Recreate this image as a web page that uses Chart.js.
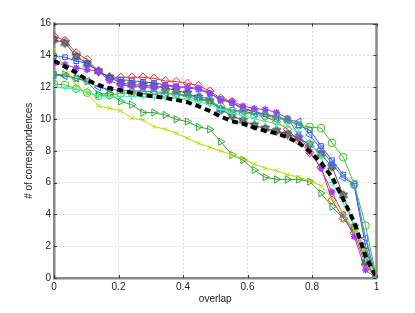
<!DOCTYPE html>
<html><head><meta charset="utf-8">
<script src="https://cdn.jsdelivr.net/npm/chart.js@4/dist/chart.umd.min.js"></script>
<style>html,body{margin:0;padding:0;background:#fff;}canvas{display:block;}</style>
</head><body>
<canvas id="c" width="415" height="313"></canvas>
<script>
const overlap = [0,0.034,0.069,0.103,0.138,0.172,0.207,0.241,0.276,0.31,0.345,0.379,0.414,0.448,0.483,0.517,0.552,0.586,0.621,0.655,0.69,0.724,0.759,0.793,0.828,0.862,0.897,0.931,0.966,1];
const redDiamond = [15.2,14.93,14.15,13.73,13.0,12.62,12.62,12.62,12.62,12.55,12.39,12.35,12.24,12.1,11.75,11.3,11.1,10.52,10.52,10.14,9.83,9.35,8.6,7.88,6.96,4.9,3.75,2.83,0.82,0];
const grayStar = [14.99,14.78,13.94,13.46,13.0,12.62,12.26,12.16,12.12,12.06,11.95,11.8,11.6,11.35,11.1,10.6,10.2,9.9,9.6,9.4,9.25,9.05,8.8,8.4,7.8,7.0,5.2,3.2,1.0,0];
const blueSquare = [13.95,13.88,13.63,13.52,13.0,12.58,12.47,12.41,12.33,12.26,12.15,12.05,11.95,11.85,11.6,11.25,11.0,10.7,10.45,10.3,10.15,9.95,9.6,9.3,8.3,7.4,6.5,5.8,2.0,0];
const purpleAst = [13.5,13.42,13.2,13.1,13.0,12.4,12.14,12.08,12.0,12.0,12.08,12.03,12.0,11.93,11.62,11.15,11.09,10.82,10.65,10.6,10.4,10.05,9.0,7.94,6.9,5.4,4.0,2.6,0.5,0];
const meanDashed = [13.65,13.3,12.9,12.45,12.12,11.93,11.8,11.65,11.5,11.42,11.32,11.2,11.05,10.8,10.5,10.15,9.85,9.7,9.45,9.25,9.1,8.85,8.5,7.95,7.25,6.35,4.95,3.5,1.4,0];
const blueTriangle = [12.77,12.7,12.55,12.39,12.0,11.85,11.8,11.75,11.75,11.72,11.65,11.55,11.5,11.36,11.3,10.57,10.57,10.46,10.36,10.3,10.1,9.94,9.83,9.0,8.1,7.2,6.3,5.9,2.5,0];
const greenCircle = [12.2,12.14,11.9,11.65,11.45,11.5,11.6,11.65,11.6,11.55,11.6,11.55,11.4,11.2,11.1,10.77,10.5,10.4,10.3,10.2,10.05,9.9,9.6,9.5,9.42,8.5,7.6,5.9,3.3,0];
const greenTriangle = [12.79,12.79,12.55,12.35,11.55,11.6,11.1,10.9,10.4,10.4,10.25,9.98,9.83,9.5,9.35,8.57,7.74,7.42,6.79,6.33,6.2,6.2,6.2,6.06,5.33,4.48,3.75,3.12,1.76,0];
const cyanPlus = [12.0,11.95,11.85,11.7,11.45,11.4,11.4,11.4,11.4,11.35,11.3,11.3,11.25,11.1,10.9,10.6,10.35,10.2,10.0,9.85,9.7,9.5,9.2,8.5,7.6,6.0,4.8,3.3,1.2,0];
const yellowX = [14.4,13.2,12.1,11.6,10.82,10.67,10.52,10.04,9.94,9.52,9.35,9.1,8.79,8.47,8.22,7.99,7.74,7.48,7.17,6.9,6.75,6.5,6.35,6.1,5.8,5.0,4.1,3.0,1.6,0];
const xTicks = [0,0.2,0.4,0.6,0.8,1];
const yTicks = [0,2,4,6,8,10,12,14,16];

function pts(arr){ return arr.map((v,i)=>({x:overlap[i], y:v})); }

// hexagram marker
const hex = document.createElement('canvas');
hex.width = 11; hex.height = 11;
(function(){
  const g = hex.getContext('2d');
  g.strokeStyle = '#505050'; g.fillStyle = 'rgba(110,110,110,0.6)'; g.lineWidth = 1;
  const cx=5.5, cy=5.5, r=4.8;
  for (const off of [-Math.PI/2, Math.PI/2]) {
    g.beginPath();
    for (let k=0;k<3;k++){ const a = off + k*2*Math.PI/3; const px=cx+r*Math.cos(a), py=cy+r*Math.sin(a); k?g.lineTo(px,py):g.moveTo(px,py); }
    g.closePath(); g.fill(); g.stroke();
  }
})();

function ds(label, data, color, style, radius, extra){
  return Object.assign({
    label, data: pts(data), borderColor: color, backgroundColor: 'transparent',
    pointBorderColor: color, pointBackgroundColor: 'transparent',
    pointStyle: style, pointRadius: radius, pointBorderWidth: 1,
    borderWidth: 1, tension: 0, showLine: true
  }, extra || {});
}

const datasets = [
  ds('mean', meanDashed, '#000', false, 0, {borderWidth: 4, borderDash: [6,4]}),
  ds('yellow', yellowX, '#b8d800', 'crossRot', 3),
  ds('cyan', cyanPlus, '#3cf5b4', 'cross', 3.5),
  ds('greenTri', greenTriangle, '#30a830', 'triangle', 4.2, {pointRotation: 90}),
  ds('greenCirc', greenCircle, '#40c030', 'circle', 3.8),
  ds('blueTri', blueTriangle, '#3a6cff', 'triangle', 4.2, {pointRotation: -90}),
  ds('purple', purpleAst, '#9c40f0', 'star', 3.5, {pointBorderWidth: 1.5}),
  ds('blueSq', blueSquare, '#3050ff', 'rect', 3.3),
  ds('gray', grayStar, '#555555', hex, 5),
  ds('red', redDiamond, '#ff2a2a', 'rectRot', 4.2)
];

const frame = {
  id: 'frame',
  afterDraw(chart){
    const a = chart.chartArea, g = chart.ctx;
    g.save();
    g.strokeStyle = '#222'; g.lineWidth = 1;
    g.beginPath(); g.moveTo(a.left, a.top+0.5); g.lineTo(a.right, a.top+0.5); g.stroke();
    g.strokeStyle = '#888'; g.lineWidth = 2.5;
    g.beginPath(); g.moveTo(a.right, a.top); g.lineTo(a.right, a.bottom); g.stroke();
    const xs = chart.scales.x, ys = chart.scales.y;
    g.strokeStyle = '#333'; g.lineWidth = 1;
    g.beginPath();
    xTicks.forEach(t=>{ const px=Math.round(xs.getPixelForValue(t))+0.5; g.moveTo(px,a.bottom); g.lineTo(px,a.bottom-3); g.moveTo(px,a.top); g.lineTo(px,a.top+3); });
    yTicks.forEach(t=>{ const py=Math.round(ys.getPixelForValue(t))+0.5; g.moveTo(a.left,py); g.lineTo(a.left+3,py); g.moveTo(a.right,py); g.lineTo(a.right-3,py); });
    g.stroke();
    g.restore();
  }
};

Chart.defaults.font.family = '"Liberation Sans", Arial, sans-serif';
Chart.defaults.color = '#222';

new Chart(document.getElementById('c'), {
  type: 'scatter',
  data: { datasets },
  options: {
    responsive: false, animation: false, devicePixelRatio: 1,
    layout: { padding: { left: 0, right: 38.5, top: 23.5, bottom: 0 } },
    plugins: { legend: { display: false }, tooltip: { enabled: false } },
    scales: {
      x: {
        type: 'linear', min: 0, max: 1,
        afterBuildTicks: s => { s.ticks = xTicks.map(v=>({value:v})); },
        afterFit: s => { s.height = 35; },
        ticks: { font: { size: 10 }, padding: 3, maxRotation: 0, callback: v => String(v) },
        grid: { color: '#b8b8b8', lineWidth: 1, drawTicks: false },
        border: { display: true, color: '#888', width: 2.5, dash: [1, 3] },
        title: { display: true, text: 'overlap', font: { size: 10 }, padding: { top: 0, bottom: 8 } }
      },
      y: {
        type: 'linear', min: 0, max: 16,
        afterBuildTicks: s => { s.ticks = yTicks.map(v=>({value:v})); },
        afterFit: s => { s.width = 54; },
        ticks: { font: { size: 10 }, padding: 3, callback: v => String(v) },
        grid: { color: '#b8b8b8', lineWidth: 1, drawTicks: false },
        border: { display: true, color: '#888', width: 2.5, dash: [1, 3] },
        title: { display: true, text: '# of correspondences', font: { size: 10 }, padding: { top: 23, bottom: 0 } }
      }
    }
  },
  plugins: [frame]
});
</script>
</body></html>
